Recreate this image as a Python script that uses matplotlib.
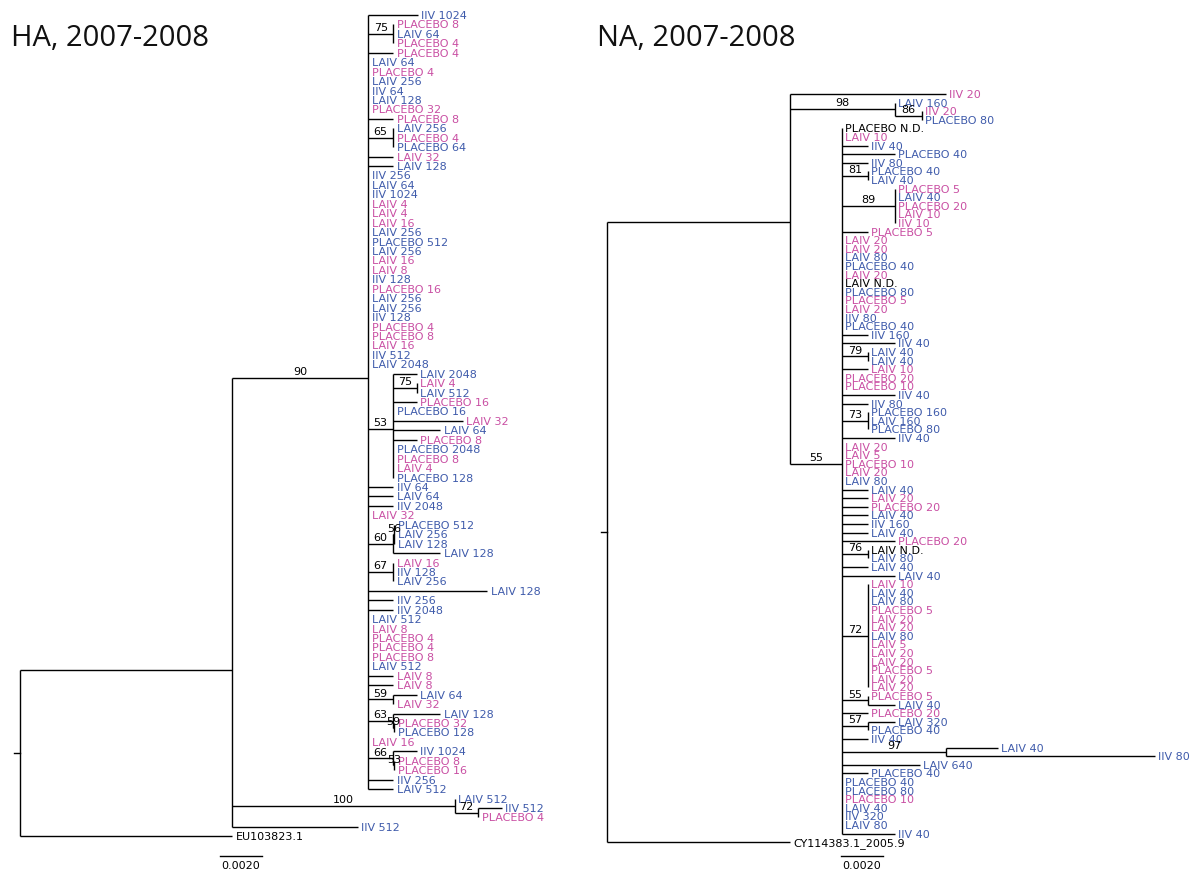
import matplotlib
matplotlib.use("Agg")
import matplotlib.pyplot as plt

# ---------------- data ----------------
# Newick trees: leaf labels are 'colourcode|text' (b = blue, p = pink, k = black),
# internal labels are bootstrap support, branch lengths in substitutions/site.
HA_TREE = """(
 (
  ('b|IIV 1024':0.00238,
   ('p|PLACEBO 8':0,'b|LAIV 64':0,'p|PLACEBO 4':0)75:0.00119,
   'p|PLACEBO 4':0.00119,
   'b|LAIV 64':0,'p|PLACEBO 4':0,'b|LAIV 256':0,'b|IIV 64':0,'b|LAIV 128':0,'p|PLACEBO 32':0,
   'p|PLACEBO 8':0.00119,
   ('b|LAIV 256':0,'p|PLACEBO 4':0,'b|PLACEBO 64':0)65:0.00119,
   'p|LAIV 32':0.00119,
   'b|LAIV 128':0.00119,
   'b|IIV 256':0,'b|LAIV 64':0,'b|IIV 1024':0,'p|LAIV 4':0,'p|LAIV 4':0,'p|LAIV 16':0,
   'b|LAIV 256':0,'b|PLACEBO 512':0,'b|LAIV 256':0,'p|LAIV 16':0,'p|LAIV 8':0,'b|IIV 128':0,
   'p|PLACEBO 16':0,'b|LAIV 256':0,'b|LAIV 256':0,'b|IIV 128':0,'p|PLACEBO 4':0,'p|PLACEBO 8':0,
   'p|LAIV 16':0,'b|IIV 512':0,'b|LAIV 2048':0,
   ('b|LAIV 2048':0.00114,('p|LAIV 4':0,'b|LAIV 512':0)75:0.00114,'p|PLACEBO 16':0.00114,
    'b|PLACEBO 16':0,'p|LAIV 32':0.00333,'b|LAIV 64':0.00224,'p|PLACEBO 8':0.00114,
    'b|PLACEBO 2048':0,'p|PLACEBO 8':0,'p|LAIV 4':0,'b|PLACEBO 128':0)53:0.00119,
   'b|IIV 64':0.00119,'b|LAIV 64':0.00119,'b|IIV 2048':0.00119,'p|LAIV 32':0,
   (('b|PLACEBO 512':0,'b|LAIV 256':0,'b|LAIV 128':0)56:0.00005,'b|LAIV 128':0.00224)60:0.00119,
   ('p|LAIV 16':0,'b|IIV 128':0,'b|LAIV 256':0)67:0.00119,
   'b|LAIV 128':0.00567,
   'b|IIV 256':0.00119,'b|IIV 2048':0.00119,
   'b|LAIV 512':0,'p|LAIV 8':0,'p|PLACEBO 4':0,'p|PLACEBO 4':0,'p|PLACEBO 8':0,'b|LAIV 512':0,
   'p|LAIV 8':0.00119,'p|LAIV 8':0.00119,
   ('b|LAIV 64':0.00114,'p|LAIV 32':0)59:0.00119,
   ('b|LAIV 128':0.00224,('p|PLACEBO 32':0,'b|PLACEBO 128':0)59:0.00005)63:0.00119,
   'p|LAIV 16':0,
   ('b|IIV 1024':0.00114,('p|PLACEBO 8':0,'p|PLACEBO 16':0)53:0.00005)66:0.00119,
   'b|IIV 256':0.00119,'b|LAIV 512':0.00119
  )90:0.00648,
  ('b|LAIV 512':0,('b|IIV 512':0.00114,'p|PLACEBO 4':0)72:0.00110)100:0.01062,
  'b|IIV 512':0.00600
 ):0.01010,
 'k|EU103823.1':0.01010
);"""

NA_TREE = """(
 ('p|IIV 20':0.00743,
  ('b|LAIV 160':0,('p|IIV 20':0,'b|PLACEBO 80':0)86:0.00129)98:0.00500,
  ('k|PLACEBO N.D.':0,'p|LAIV 10':0,'b|IIV 40':0.00124,'b|PLACEBO 40':0.00252,'b|IIV 80':0.00124,
   ('b|PLACEBO 40':0,'b|LAIV 40':0)81:0.00124,
   ('p|PLACEBO 5':0,'b|LAIV 40':0,'p|PLACEBO 20':0,'p|LAIV 10':0,'p|IIV 10':0)89:0.00252,
   'p|PLACEBO 5':0.00124,
   'p|LAIV 20':0,'p|LAIV 20':0,'b|LAIV 80':0,'b|PLACEBO 40':0,'p|LAIV 20':0,'k|LAIV N.D.':0,
   'b|PLACEBO 80':0,'p|PLACEBO 5':0,'p|LAIV 20':0,'b|IIV 80':0,'b|PLACEBO 40':0,
   'b|IIV 160':0.00124,'b|IIV 40':0.00252,
   ('b|LAIV 40':0,'b|LAIV 40':0)79:0.00124,
   'p|LAIV 10':0.00124,'p|PLACEBO 20':0,'p|PLACEBO 10':0,
   'b|IIV 40':0.00252,'b|IIV 80':0.00124,
   ('b|PLACEBO 160':0,'b|LAIV 160':0,'b|PLACEBO 80':0)73:0.00124,
   'b|IIV 40':0.00252,
   'p|LAIV 20':0,'p|LAIV 5':0,'p|PLACEBO 10':0,'p|LAIV 20':0,'b|LAIV 80':0,
   'b|LAIV 40':0.00124,'p|LAIV 20':0.00124,'p|PLACEBO 20':0.00124,'b|LAIV 40':0.00124,
   'b|IIV 160':0.00124,'b|LAIV 40':0.00124,
   'p|PLACEBO 20':0.00252,
   ('k|LAIV N.D.':0,'b|LAIV 80':0)76:0.00124,
   'b|LAIV 40':0.00124,'b|LAIV 40':0.00252,
   ('p|LAIV 10':0,'b|LAIV 40':0,'b|LAIV 80':0,'p|PLACEBO 5':0,'p|LAIV 20':0,'p|LAIV 20':0,
    'b|LAIV 80':0,'p|LAIV 5':0,'p|LAIV 20':0,'p|LAIV 20':0,'p|PLACEBO 5':0,'p|LAIV 20':0,
    'p|LAIV 20':0)72:0.00124,
   ('p|PLACEBO 5':0,'b|LAIV 40':0.00129)55:0.00124,
   'p|PLACEBO 20':0.00124,
   ('b|LAIV 320':0.00129,'b|PLACEBO 40':0)57:0.00124,
   'b|IIV 40':0.00124,
   ('b|LAIV 40':0.00248,'b|IIV 80':0.00995)97:0.00495,
   'b|LAIV 640':0.00371,
   'b|PLACEBO 40':0.00124,
   'b|PLACEBO 40':0,'b|PLACEBO 80':0,'p|PLACEBO 10':0,'b|LAIV 40':0,'b|IIV 320':0,'b|LAIV 80':0,
   'b|IIV 40':0.00252
  )55:0.00248
 ):0.00871,
 'k|CY114383.1_2005.9':0.00871
);"""

TITLES = ["HA, 2007-2008", "NA, 2007-2008"]
SCALE_LENGTH = 0.0020
SCALE_LABEL = "0.0020"

COLORS = {"b": "#3f5bab", "p": "#c94fa3", "k": "#000000"}

# ---------------- parser ----------------
def parse_newick(s):
    pos = 0

    def skip():
        nonlocal pos
        while pos < len(s) and s[pos] in " \n\t\r":
            pos += 1

    def token():
        nonlocal pos
        skip()
        start = pos
        while pos < len(s) and s[pos] not in ":,();":
            pos += 1
        return s[start:pos].strip()

    def node():
        nonlocal pos
        skip()
        n = {"children": [], "label": None, "support": None, "bl": 0.0}
        if s[pos] == "(":
            pos += 1
            while True:
                n["children"].append(node())
                skip()
                if s[pos] == ",":
                    pos += 1
                    continue
                if s[pos] == ")":
                    pos += 1
                    break
            t = token()
            n["support"] = t or None
        else:
            skip()
            if s[pos] == "'":
                end = s.index("'", pos + 1)
                n["label"] = s[pos + 1:end]
                pos = end + 1
            else:
                n["label"] = token()
        skip()
        if pos < len(s) and s[pos] == ":":
            pos += 1
            n["bl"] = float(token())
        return n

    return node()


def layout(root):
    leaves = []

    def rec(n, x):
        n["x"] = x + n["bl"]
        if n["children"]:
            for c in n["children"]:
                rec(c, n["x"])
            n["y"] = sum(c["y"] for c in n["children"]) / len(n["children"])
        else:
            leaves.append(n)
            n["y"] = float(len(leaves))

    root["bl"] = 0.0
    rec(root, 0.0)
    return leaves


# ---------------- drawing ----------------
W, H = 1203, 878
fig = plt.figure(figsize=(W / 100, H / 100), dpi=100)
PX_PER_UNIT = 42 / 0.0020
LW = 1.0
LABEL_FS = 8.0


def make_axes(root_px, row1_px, row_px):
    ax = fig.add_axes([0, 0, 1, 1])
    ax.set_xlim(-root_px / PX_PER_UNIT, (W - root_px) / PX_PER_UNIT)
    top = 1 - row1_px / row_px
    ax.set_ylim(top + H / row_px, top)
    ax.axis("off")
    ax.patch.set_alpha(0)
    return ax


def draw_tree(ax, newick, stub):
    root = parse_newick(newick)
    leaves = layout(root)

    def rec(n):
        if n["children"]:
            ys = [c["y"] for c in n["children"]]
            ax.plot([n["x"], n["x"]], [min(ys), max(ys)], color="black", lw=LW,
                    solid_capstyle="butt")
            for c in n["children"]:
                ax.plot([n["x"], c["x"]], [c["y"], c["y"]], color="black", lw=LW,
                        solid_capstyle="butt")
                rec(c)
            if n["support"]:
                parent_x = n["x"] - n["bl"]
                ax.annotate(n["support"], ((parent_x + n["x"]) / 2, n["y"]),
                            xytext=(0, 1.2), textcoords="offset points",
                            ha="center", va="bottom", fontsize=LABEL_FS,
                            family="DejaVu Sans", color="black")
        else:
            code, text = n["label"].split("|", 1)
            ax.annotate(text, (n["x"], n["y"]), xytext=(2.4, 0),
                        textcoords="offset points", ha="left", va="center",
                        fontsize=LABEL_FS, family="DejaVu Sans", color=COLORS[code])

    rec(root)
    ax.plot([-stub, 0], [root["y"], root["y"]], color="black", lw=LW)
    return root, leaves


ax_ha = make_axes(20, 16, 9.44)
draw_tree(ax_ha, HA_TREE, 0.0003)
ax_na = make_axes(607, 95, 8.6)
draw_tree(ax_na, NA_TREE, 0.0003)


def scale_bar(ax, root_px, row1_px, row_px, x_px, y_px):
    x0 = (x_px - root_px) / PX_PER_UNIT
    y0 = 1 + (y_px - row1_px) / row_px
    ax.plot([x0, x0 + SCALE_LENGTH], [y0, y0], color="black", lw=LW)
    ax.annotate(SCALE_LABEL, (x0 + SCALE_LENGTH / 2, y0), xytext=(0, -3),
                textcoords="offset points", ha="center", va="top",
                fontsize=LABEL_FS, family="DejaVu Sans", color="black")


scale_bar(ax_ha, 20, 16, 9.44, 220, 857)
scale_bar(ax_na, 607, 95, 8.6, 841, 857)

fig.text(11 / W, 1 - 46 / H, TITLES[0], fontsize=21, family="Open Sans",
         ha="left", va="baseline", color="#111111")
fig.text(597 / W, 1 - 46 / H, TITLES[1], fontsize=21, family="Open Sans",
         ha="left", va="baseline", color="#111111")

fig.savefig("out.png", dpi=100, facecolor="white")
